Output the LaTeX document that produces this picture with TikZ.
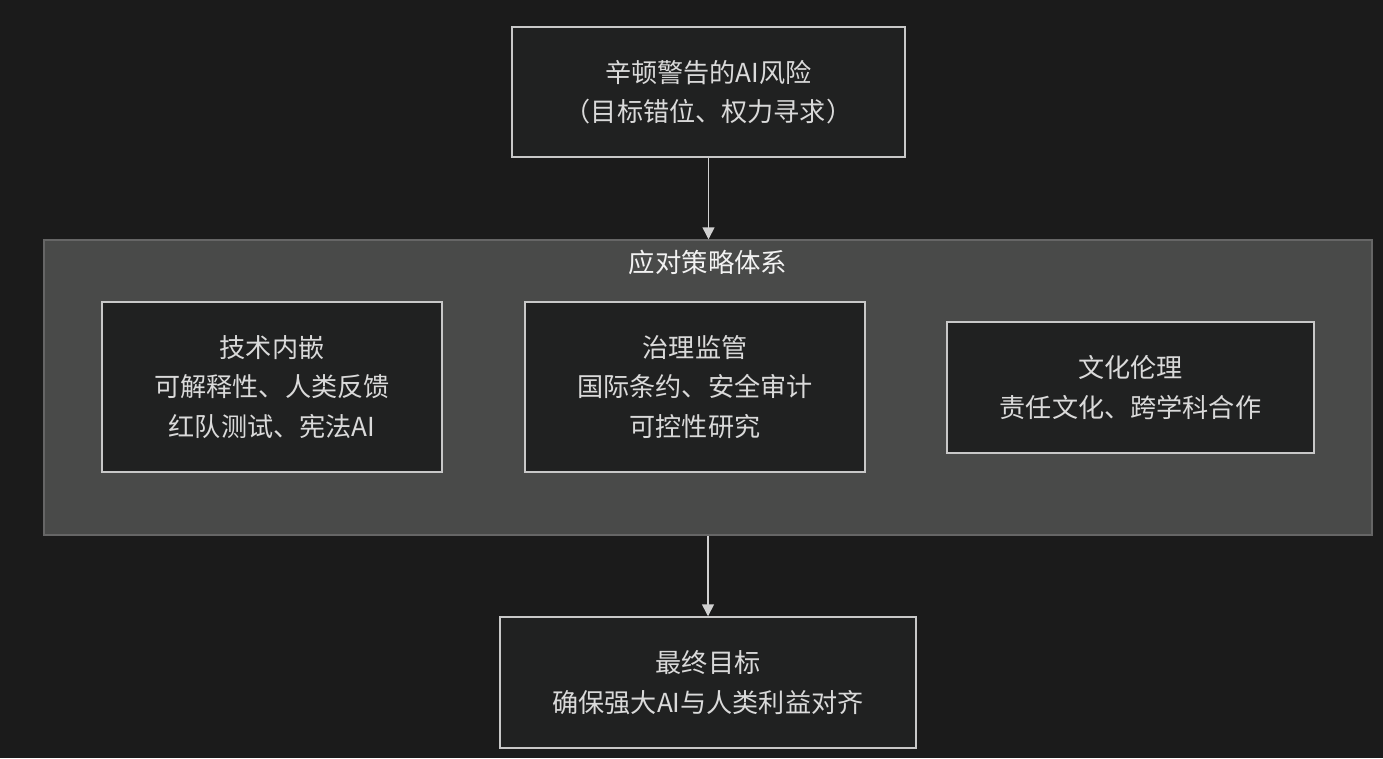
\documentclass[tikz,border=0pt]{standalone}
\usepackage{fontspec}
\setmainfont{Noto Sans CJK SC}
\usetikzlibrary{arrows.meta}
\definecolor{bg}{HTML}{1B1B1B}
\definecolor{clfill}{HTML}{494A49}
\definecolor{clborder}{HTML}{666666}
\definecolor{nfill}{HTML}{202121}
\definecolor{nborder}{HTML}{C8C8C8}
\definecolor{txt}{HTML}{DADADA}
\definecolor{titletxt}{HTML}{F2F2F2}
\definecolor{edge}{HTML}{D0D0D0}
\tikzset{
  box/.style={draw=nborder, fill=nfill, line width=1.1pt, text=txt, align=center,
    font=\fontsize{19.6pt}{29.6pt}\selectfont, inner sep=0pt},
  cluster/.style={draw=clborder, fill=clfill, line width=1.1pt, inner sep=0pt},
  title/.style={text=titletxt, font=\fontsize{19.8pt}{22pt}\selectfont, inner sep=0pt},
  flow/.style={draw=edge, line width=1.1pt, -{Triangle[width=9pt,length=9pt]}}
}
\begin{document}
\begin{tikzpicture}[x=0.75pt,y=-0.75pt]
\fill[bg] (0,0) rectangle (1383,758);
\useasboundingbox (0,0) rectangle (1383,758);
\node[cluster, minimum width=996pt, minimum height=221.25pt] (cl) at (708,387.5) {};
\node[title] (cltitle) at (708,262) {应对策略体系};
\node[box, minimum width=294.75pt, minimum height=97.5pt] (risk) at (708.5,92) {辛顿警告的AI风险\\（目标错位、权力寻求）};
\node[box, minimum width=255pt, minimum height=127.5pt] (tech) at (272,387) {技术内嵌\\可解释性、人类反馈\\红队测试、宪法AI};
\node[box, minimum width=255pt, minimum height=127.5pt] (gov) at (695,387) {治理监管\\国际条约、安全审计\\可控性研究};
\node[box, minimum width=275.25pt, minimum height=98.25pt] (cult) at (1130.5,387.5) {文化伦理\\责任文化、跨学科合作};
\node[box, minimum width=312pt, minimum height=98.25pt] (goal) at (708,682.5) {最终目标\\确保强大AI与人类利益对齐};
\draw[flow] (risk.south) -- (risk.south |- cl.north);
\draw[flow] (cl.south -| goal.north) -- (goal.north);
\end{tikzpicture}
\end{document}
